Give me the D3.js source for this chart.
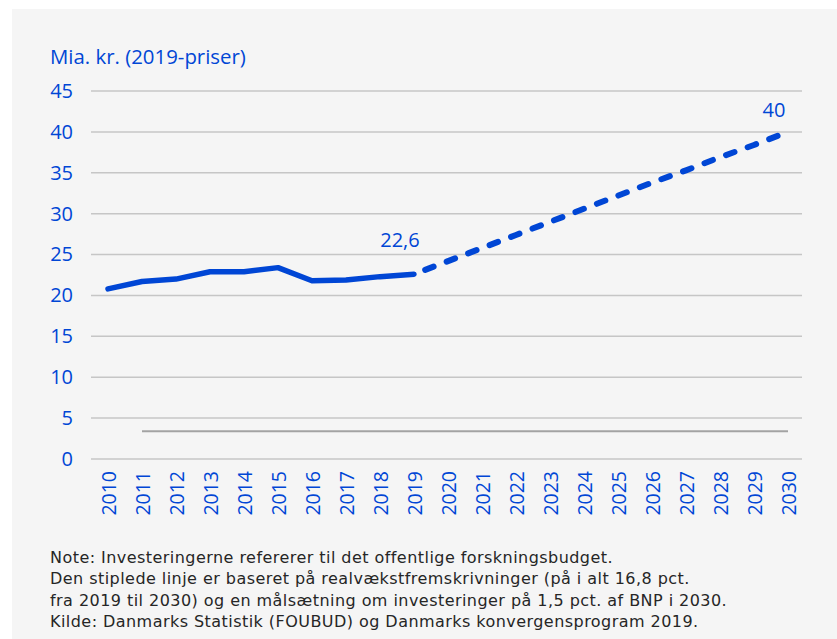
<!DOCTYPE html>
<html>
<head>
<meta charset="utf-8">
<script src="https://cdn.jsdelivr.net/npm/d3@7"></script>
<style>
  html, body { margin: 0; padding: 0; background: #ffffff; }
  svg { display: block; }
</style>
</head>
<body>
<div id="chart"></div>
<script>
// Offentlige forskningsinvesteringer, mia. kr. (2019-priser)
const years = ['2010', '2011', '2012', '2013', '2014', '2015', '2016', '2017', '2018', '2019',
               '2020', '2021', '2022', '2023', '2024', '2025', '2026', '2027', '2028', '2029', '2030'];
const actualYears = ['2010', '2011', '2012', '2013', '2014', '2015', '2016', '2017', '2018', '2019'];
const actualValues = [20.8, 21.7, 22.0, 22.9, 22.9, 23.4, 21.8, 21.9, 22.3, 22.6];
const projYears = ['2019', '2020', '2021', '2022', '2023', '2024', '2025', '2026', '2027', '2028', '2029', '2030'];
const projValues = [22.6, 24.2, 25.8, 27.4, 29.0, 30.6, 32.2, 33.8, 35.3, 36.9, 38.4, 40.0];
const baseYears = ['2011', '2030'];
const baseValues = [3.4, 3.4];
const yTicks = [0, 5, 10, 15, 20, 25, 30, 35, 40, 45];
const labels = [
    { year: '2019', value: 22.6, text: '22,6' },
    { year: '2030', value: 40, text: '40' }
];
const noteLines = [
    'Note: Investeringerne refererer til det offentlige forskningsbudget.',
    'Den stiplede linje er baseret på realvækstfremskrivninger (på i alt 16,8 pct.',
    'fra 2019 til 2030) og en målsætning om investeringer på 1,5 pct. af BNP i 2030.',
    'Kilde: Danmarks Statistik (FOUBUD) og Danmarks konvergensprogram 2019.'
];

const width = 837, height = 639;
const blue = '#0046d5';
const font = "'Open Sans', sans-serif";

const svg = d3.select('#chart').append('svg')
    .attr('width', width)
    .attr('height', height);

// panel background
svg.append('rect')
    .attr('x', 12).attr('y', 9)
    .attr('width', width - 12).attr('height', height - 9)
    .attr('fill', '#f5f5f5');

const gridLeft = 91, gridRight = 802;
const x = d3.scalePoint().domain(years).range([108, 788]);
const y = d3.scaleLinear().domain([0, 45]).range([459, 91]);

// y axis title
svg.append('text')
    .attr('x', 50).attr('y', 64)
    .attr('fill', blue)
    .attr('font-family', font)
    .attr('font-size', '20.4px')
    .text('Mia. kr. (2019-priser)');

// gridlines
svg.append('g')
    .selectAll('line')
    .data(yTicks)
    .enter().append('line')
    .attr('x1', gridLeft).attr('x2', gridRight)
    .attr('y1', d => y(d)).attr('y2', d => y(d))
    .attr('stroke', '#c6c6c6')
    .attr('stroke-width', 1.5);

// y axis labels
const yAxis = svg.append('g')
    .attr('transform', `translate(73,0)`)
    .call(d3.axisLeft(y).tickValues(yTicks).tickSize(0).tickPadding(0));
yAxis.select('.domain').remove();
yAxis.selectAll('text')
    .attr('fill', blue)
    .attr('font-family', font)
    .attr('font-size', '20px');

// x axis labels (rotated)
const xAxis = svg.append('g')
    .attr('transform', `translate(0,471)`)
    .call(d3.axisBottom(x).tickSize(0).tickPadding(0));
xAxis.select('.domain').remove();
xAxis.selectAll('text')
    .attr('fill', blue)
    .attr('font-family', font)
    .attr('font-size', '19.5px')
    .attr('text-anchor', 'end')
    .attr('transform', 'rotate(-90)')
    .attr('x', 0)
    .attr('y', 0)
    .attr('dx', 0)
    .attr('dy', '0.36em');

// flat grey series
const line = d3.line()
    .x(d => x(d[0]))
    .y(d => y(d[1]));

svg.append('path')
    .datum(d3.zip(baseYears, baseValues))
    .attr('d', line)
    .attr('fill', 'none')
    .attr('stroke', '#a3a3a3')
    .attr('stroke-width', 2);

// actual
svg.append('path')
    .datum(d3.zip(actualYears, actualValues))
    .attr('d', line)
    .attr('fill', 'none')
    .attr('stroke', blue)
    .attr('stroke-width', 5.5)
    .attr('stroke-linejoin', 'round')
    .attr('stroke-linecap', 'round');

// projection
svg.append('path')
    .datum(d3.zip(projYears, projValues))
    .attr('d', line)
    .attr('fill', 'none')
    .attr('stroke', blue)
    .attr('stroke-width', 6)
    .attr('stroke-linecap', 'round')
    .attr('stroke-dasharray', '9,14')
    .attr('stroke-dashoffset', -12);

// value labels (first sits higher above its point)
const labelLift = [27, 15];
svg.append('g')
    .selectAll('text')
    .data(labels)
    .enter().append('text')
    .attr('x', d => x(d.year) - 14)
    .attr('y', (d, i) => y(d.value) - labelLift[i])
    .attr('text-anchor', 'middle')
    .attr('fill', blue)
    .attr('font-family', font)
    .attr('font-size', '20px')
    .text(d => d.text);

// note
svg.append('g')
    .selectAll('text')
    .data(noteLines)
    .enter().append('text')
    .attr('x', 50)
    .attr('y', (d, i) => 563 + i * 21.3)
    .attr('fill', '#262626')
    .attr('font-family', "'DejaVu Sans', sans-serif")
    .attr('font-size', '16px')
    .attr('letter-spacing', '0.45px')
    .text(d => d);
</script>
</body>
</html>
